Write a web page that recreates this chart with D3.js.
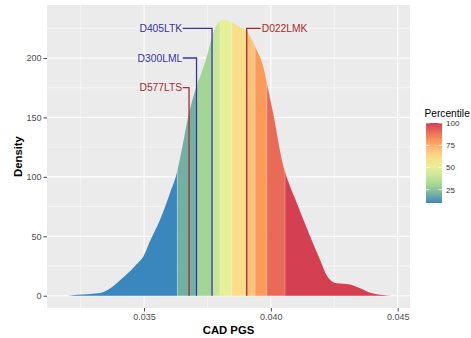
<!DOCTYPE html>
<html>
<head>
<meta charset="utf-8">
<script src="https://cdn.jsdelivr.net/npm/d3@7"></script>
<style>
  body { margin: 0; background: #fff; }
  text { font-family: "Liberation Sans", Arial, sans-serif; }
</style>
</head>
<body>
<div id="chart"></div>
<script>
// density curve of CAD PGS
const densX = [0.032003, 0.032358, 0.032871, 0.033265, 0.033659, 0.034054, 0.034369, 0.034645, 0.035,
  0.035237, 0.035631, 0.036025, 0.036289, 0.036498, 0.036735, 0.037050, 0.037338, 0.037472, 0.037670,
  0.037867, 0.038127, 0.038312, 0.038588, 0.038852, 0.039022, 0.039180, 0.039444, 0.039704, 0.039890,
  0.040087, 0.040481, 0.040757, 0.041021, 0.041546, 0.041940, 0.042204, 0.042413, 0.042598, 0.042847,
  0.043123, 0.043517, 0.043911, 0.044424, 0.044779];
const densY = [0, 0.8, 1.5, 2.2, 6, 13, 19, 25, 34,
  46, 64, 86.5, 103, 124, 150, 175, 192, 201, 217,
  228, 232.6, 231.5, 228.5, 225.5, 223.5, 218, 206.7, 192.7, 174,
  154, 110, 92, 78, 50, 30, 17, 12, 10.5, 10,
  9.5, 6.2, 2.5, 0.6, 0];

// decile bands
const percentiles = [10, 20, 30, 40, 50, 60, 70, 80, 90, 100];
const bandEdges = [0.036310, 0.037090, 0.037681, 0.037997, 0.038458, 0.038983, 0.039377, 0.039838, 0.040560];

// labelled samples
const sampleNames = ["D577LTS", "D300LML", "D405LTK", "D022LMK"];
const sampleX = [0.036774, 0.037070, 0.037681, 0.039049];
const sampleLabelY = [175, 200, 225, 225];
const sampleSide = ["left", "left", "left", "right"];
const sampleColor = ["#a82a2a", "#3434a8", "#3434a8", "#a82a2a"];

const xTicks = [0.035, 0.040, 0.045];
const xMinor = [0.0325, 0.0375, 0.0425];
const yTicks = [0, 50, 100, 150, 200];
const yMinor = [25, 75, 125, 175, 225];
const legendTicks = [25, 50, 75, 100];

const width = 471, height = 338;
const panel = {left: 47, right: 410, top: 5, bottom: 308};

const svg = d3.select("#chart").append("svg")
  .attr("width", width)
  .attr("height", height);

const x = d3.scaleLinear().domain([0.031175, 0.045485]).range([panel.left, panel.right]);
const y = d3.scaleLinear().domain([-10.35, 244.6]).range([panel.bottom, panel.top]);

// spectral-like gradient, one stop per decile
const palette = ["#3a87bd", "#72b0a4", "#a3d595", "#c8e69a", "#e7ef98",
  "#f7df8a", "#fdc27c", "#fc9a5a", "#e96b57", "#d43f52"];
const color = d3.scaleLinear()
  .domain(percentiles)
  .range(palette)
  .interpolate(d3.interpolateLab);

// panel background + grid
svg.append("rect")
  .attr("x", panel.left).attr("y", panel.top)
  .attr("width", panel.right - panel.left).attr("height", panel.bottom - panel.top)
  .attr("fill", "#ebebeb");

const grid = svg.append("g");
grid.selectAll(".xminor").data(xMinor).enter().append("line")
  .attr("x1", d => x(d)).attr("x2", d => x(d))
  .attr("y1", panel.top).attr("y2", panel.bottom)
  .attr("stroke", "#fff").attr("stroke-width", 0.5);
grid.selectAll(".yminor").data(yMinor).enter().append("line")
  .attr("y1", d => y(d)).attr("y2", d => y(d))
  .attr("x1", panel.left).attr("x2", panel.right)
  .attr("stroke", "#fff").attr("stroke-width", 0.5);
grid.selectAll(".xmajor").data(xTicks).enter().append("line")
  .attr("x1", d => x(d)).attr("x2", d => x(d))
  .attr("y1", panel.top).attr("y2", panel.bottom)
  .attr("stroke", "#fff").attr("stroke-width", 1.1);
grid.selectAll(".ymajor").data(yTicks).enter().append("line")
  .attr("y1", d => y(d)).attr("y2", d => y(d))
  .attr("x1", panel.left).attr("x2", panel.right)
  .attr("stroke", "#fff").attr("stroke-width", 1.1);

// density bands
const dens = densX.map((d, i) => [d, densY[i]]);
const area = d3.area()
  .x(d => x(d[0]))
  .y0(y(0))
  .y1(d => y(d[1]))
  .curve(d3.curveMonotoneX);

const edges = [x.domain()[0]].concat(bandEdges, [x.domain()[1]]);
const defs = svg.append("defs");
percentiles.forEach((p, i) => {
  defs.append("clipPath").attr("id", "band" + i)
    .append("rect")
    .attr("x", x(edges[i])).attr("y", panel.top)
    .attr("width", x(edges[i + 1]) - x(edges[i]))
    .attr("height", panel.bottom - panel.top);
  svg.append("path")
    .datum(dens)
    .attr("clip-path", "url(#band" + i + ")")
    .attr("d", area)
    .attr("fill", color(p));
});

// faint separators between bands
const clipAll = defs.append("clipPath").attr("id", "areaclip");
clipAll.append("path").datum(dens).attr("d", area);
svg.append("g").attr("clip-path", "url(#areaclip)")
  .selectAll("line").data(bandEdges).enter().append("line")
  .attr("x1", d => x(d)).attr("x2", d => x(d))
  .attr("y1", y(0)).attr("y2", panel.top)
  .attr("stroke", "#fff").attr("stroke-opacity", 0.35).attr("stroke-width", 0.8);

// sample markers
const labelLeftX = 0.036525;
const labelRightX = 0.039600;
sampleNames.forEach((name, i) => {
  const sx = x(sampleX[i]), ly = y(sampleLabelY[i]);
  const lx = sampleSide[i] === "left" ? x(labelLeftX) : x(labelRightX);
  svg.append("path")
    .attr("d", `M${sx},${y(0)}V${ly}H${lx}`)
    .attr("fill", "none")
    .attr("stroke", sampleColor[i])
    .attr("stroke-width", 1.3);
  svg.append("text")
    .attr("x", sampleSide[i] === "left" ? lx - 0.5 : lx + 1)
    .attr("y", ly + 3.6)
    .attr("text-anchor", sampleSide[i] === "left" ? "end" : "start")
    .attr("font-size", 10.3)
    .attr("fill", sampleColor[i])
    .text(name);
});

// axes
const xAxis = svg.append("g")
  .attr("transform", `translate(0,${panel.bottom})`)
  .call(d3.axisBottom(x).tickValues(xTicks).tickFormat(d3.format(".3f")).tickSize(3.5).tickPadding(2));
const yAxis = svg.append("g")
  .attr("transform", `translate(${panel.left},0)`)
  .call(d3.axisLeft(y).tickValues(yTicks).tickSize(3.5).tickPadding(2));
[xAxis, yAxis].forEach(a => {
  a.select(".domain").remove();
  a.selectAll(".tick line").attr("stroke", "#333").attr("stroke-width", 0.9);
  a.selectAll(".tick text").attr("fill", "#4d4d4d").attr("font-size", 9)
    .attr("font-family", "Liberation Sans, Arial, sans-serif");
});

svg.append("text")
  .attr("x", (panel.left + panel.right) / 2)
  .attr("y", 334)
  .attr("text-anchor", "middle")
  .attr("font-size", 11.3)
  .attr("font-weight", "bold")
  .text("CAD PGS");

svg.append("text")
  .attr("transform", `translate(21.5,${(panel.top + panel.bottom) / 2}) rotate(-90)`)
  .attr("text-anchor", "middle")
  .attr("font-size", 11.3)
  .attr("font-weight", "bold")
  .text("Density");

// legend
const leg = {x: 426, top: 122, bottom: 203, w: 16};
const ly = d3.scaleLinear().domain([10, 100]).range([leg.bottom, 123]);
const grad = defs.append("linearGradient").attr("id", "legGrad")
  .attr("x1", 0).attr("x2", 0).attr("y1", 1).attr("y2", 0);
d3.range(0, 1.0001, 0.05).forEach(t => {
  grad.append("stop").attr("offset", t).attr("stop-color", color(10 + t * 90));
});
svg.append("text")
  .attr("x", 424.5).attr("y", 117)
  .attr("font-size", 10.2)
  .attr("fill", "#000")
  .text("Percentile");
svg.append("rect")
  .attr("x", leg.x).attr("y", ly(100))
  .attr("width", leg.w).attr("height", ly(10) - ly(100))
  .attr("fill", "url(#legGrad)");
legendTicks.forEach(t => {
  svg.append("line")
    .attr("x1", leg.x).attr("x2", leg.x + 3.5)
    .attr("y1", ly(t)).attr("y2", ly(t))
    .attr("stroke", "#fff").attr("stroke-width", 0.8);
  svg.append("line")
    .attr("x1", leg.x + leg.w - 3.5).attr("x2", leg.x + leg.w)
    .attr("y1", ly(t)).attr("y2", ly(t))
    .attr("stroke", "#fff").attr("stroke-width", 0.8);
  svg.append("text")
    .attr("x", leg.x + leg.w + 4)
    .attr("y", ly(t) + 3)
    .attr("font-size", 8)
    .attr("fill", "#333")
    .text(t);
});
</script>
</body>
</html>
